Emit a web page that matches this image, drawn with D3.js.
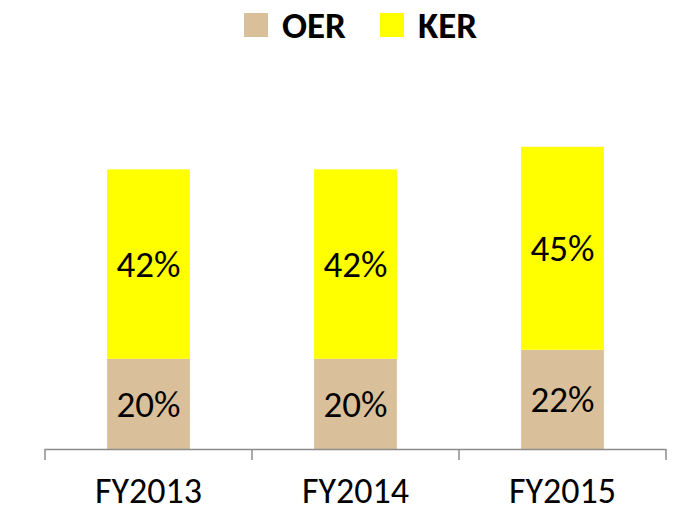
<!DOCTYPE html>
<html>
<head>
<meta charset="utf-8">
<script src="https://cdn.jsdelivr.net/npm/d3@7"></script>
<style>
  body { margin: 0; background: #fff; }
  text { font-family: Carlito, Calibri, "Open Sans", sans-serif; }
</style>
</head>
<body>
<script>
// data
const years = ['FY2013', 'FY2014', 'FY2015']
const oer = [20, 20, 22]
const ker = [42, 42, 45]
const seriesNames = ['OER', 'KER']
const colors = ['#D9C09A', '#FFFF00']

const w = 675
const h = 514
const base = 449

const svg = d3.select('body')
    .append('svg')
    .attr('width', w)
    .attr('height', h)

// scales
const x = d3.scaleBand().domain(years).range([45, 666])
const y = d3.scaleLinear().domain([0, 70]).range([base, base - 4.51 * 70])
const barW = x.bandwidth() * 0.4

// stacked data
const rows = years.map((yr, i) => ({ year: yr, OER: oer[i], KER: ker[i] }))
const stack = d3.stack().keys(seriesNames)(rows)

const layers = svg.append('g')
    .selectAll('g')
    .data(stack)
    .enter()
    .append('g')
    .attr('fill', (d, i) => colors[i])

layers.selectAll('rect')
    .data(d => d)
    .enter()
    .append('rect')
    .attr('x', d => x(d.data.year) + (x.bandwidth() - barW) / 2)
    .attr('y', d => y(d[1]))
    .attr('width', barW)
    .attr('height', d => y(d[0]) - y(d[1]))

// value labels
layers.selectAll('text')
    .data((d, i) => d.map(v => ({ v, key: seriesNames[i] })))
    .enter()
    .append('text')
    .attr('x', d => x(d.v.data.year) + x.bandwidth() / 2)
    .attr('y', d => (y(d.v[0]) + y(d.v[1])) / 2)
    .attr('dy', '0.35em')
    .attr('text-anchor', 'middle')
    .attr('fill', '#000')
    .style('font-size', '37px')
    .text(d => d.v.data[d.key] + '%')

// axis: line plus ticks at category boundaries
const axis = svg.append('g')
axis.append('line')
    .attr('x1', x.range()[0]).attr('x2', x.range()[1])
    .attr('y1', base + 0.5).attr('y2', base + 0.5)
    .attr('stroke', '#8c8c8c')
    .attr('stroke-width', 1.5)
const bounds = years.map(d => x(d)).concat([x.range()[1]])
axis.selectAll('.tick')
    .data(bounds)
    .enter()
    .append('line')
    .attr('x1', d => d).attr('x2', d => d)
    .attr('y1', base).attr('y2', base + 11)
    .attr('stroke', '#8c8c8c')
    .attr('stroke-width', 1.5)
axis.selectAll('.lbl')
    .data(years)
    .enter()
    .append('text')
    .attr('x', d => x(d) + x.bandwidth() / 2)
    .attr('y', 503)
    .attr('text-anchor', 'middle')
    .style('font-size', '36px')
    .text(d => d)

// legend
const legendX = [244, 380]
const legend = svg.append('g')
legend.selectAll('rect')
    .data(seriesNames)
    .enter()
    .append('rect')
    .attr('x', (d, i) => legendX[i])
    .attr('y', 13)
    .attr('width', 24)
    .attr('height', 24)
    .attr('fill', (d, i) => colors[i])
legend.selectAll('text')
    .data(seriesNames)
    .enter()
    .append('text')
    .attr('x', (d, i) => legendX[i] + 38)
    .attr('y', 38)
    .style('font-size', '37px')
    .style('font-weight', 'bold')
    .text(d => d)
</script>
</body>
</html>
